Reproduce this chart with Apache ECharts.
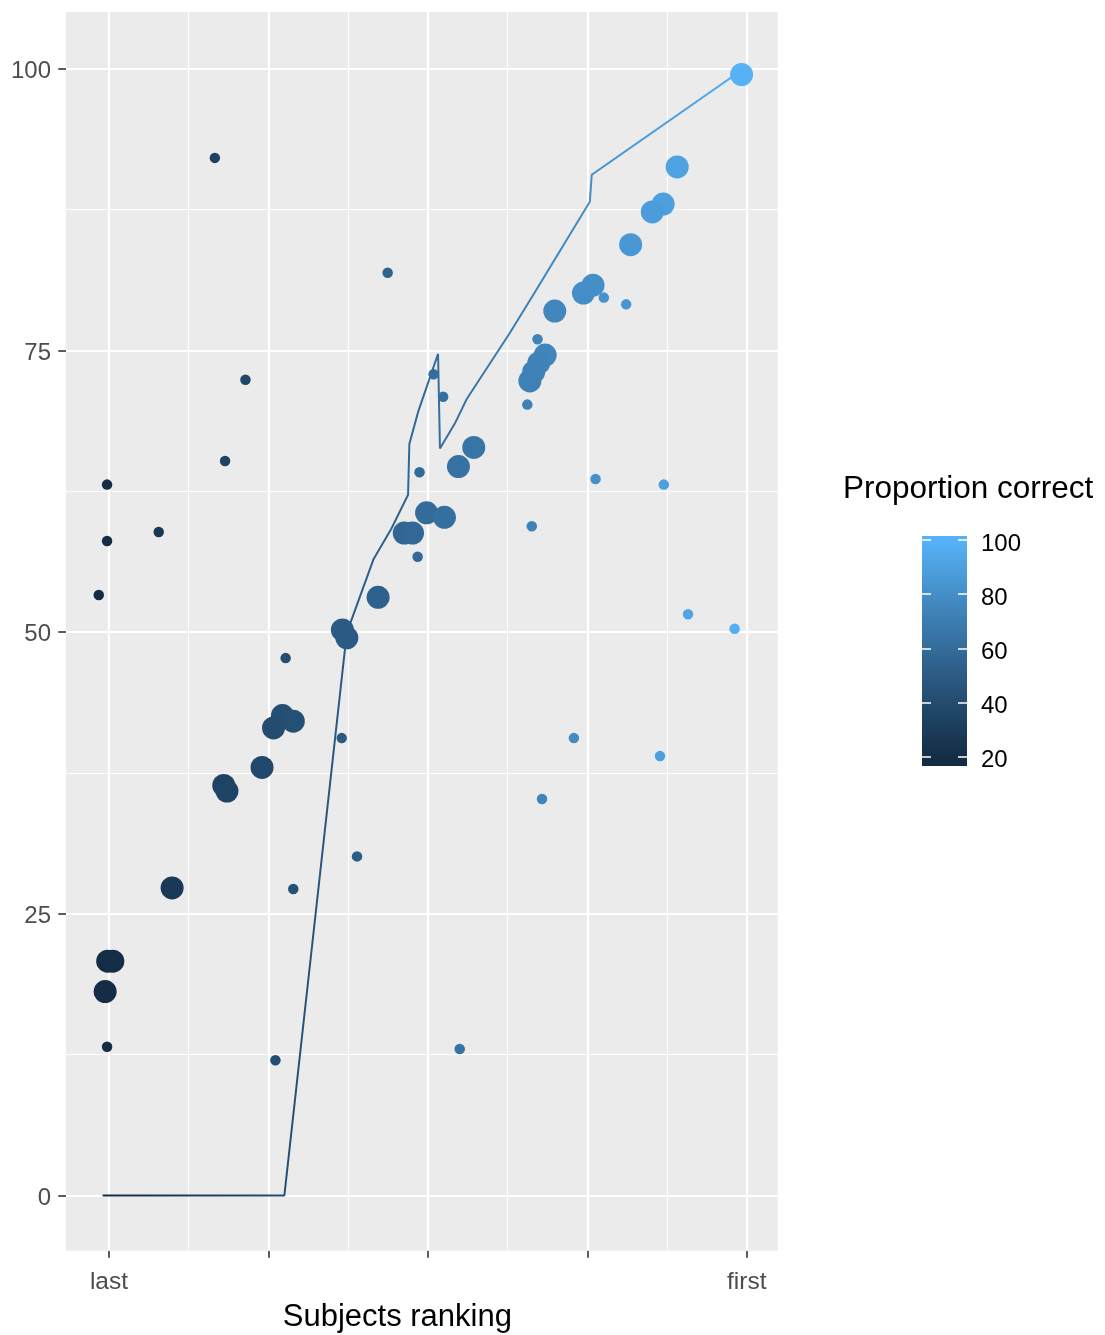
<!DOCTYPE html>
<html>
<head>
<meta charset="utf-8">
<title>Subjects ranking</title>
<script src="https://cdn.jsdelivr.net/npm/echarts@6/dist/echarts.min.js"></script>
<style>
  html, body { margin: 0; padding: 0; background: #ffffff; }
  #chart { width: 1105px; height: 1335px; }
</style>
</head>
<body>
<div id="chart"></div>
<script>
// Axis breaks: ranking position (0 = last, 100 = first) and score
const rankTicks = [0, 25, 50, 75, 100];
const rankLabels = ['last', '', '', '', 'first'];
const rankMinor = [12.5, 37.5, 62.5, 87.5];
const scoreTicks = [0, 25, 50, 75, 100];
const scoreMinor = [12.5, 37.5, 62.5, 87.5];
const legendTicks = [20, 40, 60, 80, 100];

// Group summaries (large points)
const groupRank = [99.2, 89.1, 86.9, 85.2, 81.8, 75.9, 74.4, 69.9, 68.4, 67.4, 66.6, 66.0,
  57.2, 54.8, 49.8, 52.6, 46.3, 47.6, 42.2, 36.6, 37.3, 27.2, 28.9, 25.8, 24.0, 18.0, 18.5,
  9.9, -0.2, 0.6, -0.6];
const groupScore = [99.5, 91.3, 88.0, 87.3, 84.4, 80.8, 80.1, 78.5, 74.6, 73.9, 73.1, 72.3,
  66.4, 64.7, 60.6, 60.2, 58.8, 58.8, 53.1, 50.2, 49.5, 42.6, 42.1, 41.5, 38.0, 36.4, 35.9,
  27.3, 20.8, 20.8, 18.1];
const groupCorrect = [99.4, 90.9, 89.2, 87.8, 85.1, 80.4, 79.2, 75.6, 74.4, 73.6, 73.0, 72.5,
  65.5, 63.6, 59.6, 61.9, 56.9, 57.9, 53.6, 49.1, 49.7, 41.7, 43.0, 40.6, 39.1, 34.3, 34.7,
  27.9, 19.9, 20.5, 19.6];

// Individual subjects (small points)
const subjectRank = [16.6, 43.7, 21.4, 18.2, -0.3, -0.3, 7.8, -1.6, 27.7, 36.5, 38.9, 28.9,
  -0.3, 26.1, 55.0, 50.9, 52.4, 48.7, 48.4, 67.2, 65.6, 66.3, 76.3, 87.0, 90.8, 98.1, 72.9,
  86.4, 67.9, 77.6, 81.1];
const subjectScore = [92.1, 81.9, 72.4, 65.2, 63.1, 58.1, 58.9, 53.3, 47.7, 40.6, 30.1, 27.2,
  13.2, 12.0, 13.0, 72.9, 70.9, 64.2, 56.7, 76.0, 70.2, 59.4, 63.6, 63.1, 51.6, 50.3, 40.6,
  39.0, 35.2, 79.7, 79.1];
const subjectCorrect = [33.2, 54.8, 37.1, 34.5, 19.8, 19.8, 26.2, 18.7, 42.1, 49.1, 51.0, 43.0,
  19.8, 40.8, 63.8, 60.5, 61.7, 58.8, 58.5, 73.5, 72.2, 72.8, 80.7, 89.2, 92.3, 98.1, 78.0,
  88.8, 74.0, 81.8, 84.5];

// Reference curve
const curveRank = [-1.0, 27.5, 37.3, 38.1, 41.5, 44.3, 46.9, 47.1, 48.5, 51.6, 51.9, 54.3,
  56.1, 62.9, 66.8, 75.4, 75.7, 99.5];
const curveScore = [0, 0, 50.0, 51.2, 56.5, 59.2, 62.2, 66.7, 69.6, 74.7, 66.3, 68.6,
  70.7, 76.6, 80.2, 88.2, 90.6, 100.0];

// Colour scale limits (proportion correct) and the rank span it follows along the curve
const correctMin = 18.7, correctMax = 99.4;
const curveRankMin = -1.67, curveRankMax = 99.78;
const barMin = 16.6, barMax = 101.5;

const FONT = '"Liberation Sans", Arial, Helvetica, sans-serif';
const palette = ['#132B43', '#22496C', '#336A98', '#448DC6', '#56B1F7'];

const groupData = groupRank.map((x, i) => [x, groupScore[i], groupCorrect[i]]);
const subjectData = subjectRank.map((x, i) => [x, subjectScore[i], subjectCorrect[i]]);
const curveData = curveRank.map((x, i) => [x, curveScore[i]]);

function gridLines() {
  const out = [];
  rankMinor.forEach(v => out.push({ xAxis: v, lineStyle: { width: 1.1 } }));
  scoreMinor.forEach(v => out.push({ yAxis: v, lineStyle: { width: 1.1 } }));
  rankTicks.forEach(v => out.push({ xAxis: v, lineStyle: { width: 2.2 } }));
  scoreTicks.forEach(v => out.push({ yAxis: v, lineStyle: { width: 2.2 } }));
  return out;
}

// Colour bar fill: flat ends outside the scale limits, palette stops inside
const barStops = [{ offset: 0, color: palette[0] }];
palette.forEach((c, i) => {
  const v = correctMin + (correctMax - correctMin) * i / (palette.length - 1);
  barStops.push({ offset: (v - barMin) / (barMax - barMin), color: c });
});
barStops.push({ offset: 1, color: palette[palette.length - 1] });
const barFill = new echarts.graphic.LinearGradient(0, 1, 0, 0, barStops);

const hiddenLine = { show: true, onZero: false, lineStyle: { color: 'rgba(0,0,0,0)', width: 0 } };

const chart = echarts.init(document.getElementById('chart'), null, { renderer: 'canvas' });

const option = {
  animation: false,
  backgroundColor: '#FFFFFF',
  textStyle: { fontFamily: FONT },
  title: {
    text: 'Proportion correct',
    left: 843,
    top: 473,
    padding: 0,
    textStyle: { fontFamily: FONT, fontSize: 31.5, fontWeight: 'normal', color: '#000000' }
  },
  grid: [
    { left: 66, top: 12, width: 711.7, height: 1238.7, show: true, outerBoundsMode: 'none',
      containLabel: false, backgroundColor: '#EBEBEB', borderWidth: 0 },
    { left: 922, top: 536, width: 45, height: 230, show: true, outerBoundsMode: 'none',
      containLabel: false, backgroundColor: barFill, borderWidth: 0 }
  ],
  xAxis: [
    {
      type: 'value', gridIndex: 0, min: -6.74, max: 104.86,
      splitLine: { show: false }, axisLine: hiddenLine,
      axisTick: { show: true, customValues: rankTicks, length: 7,
        lineStyle: { color: '#333333', width: 1.6 } },
      axisLabel: { customValues: rankTicks, margin: 19, fontSize: 24.5, color: '#4D4D4D',
        fontFamily: FONT,
        formatter: v => rankLabels[rankTicks.indexOf(v)] || '' },
      name: 'Subjects ranking', nameLocation: 'middle', nameGap: 51,
      nameTextStyle: { fontSize: 31, color: '#000000', fontFamily: FONT, padding: [0, 49, 0, 0] }
    },
    { type: 'value', gridIndex: 1, min: 0, max: 1, show: false }
  ],
  yAxis: [
    {
      type: 'value', gridIndex: 0, min: -4.9, max: 105.05,
      splitLine: { show: false }, axisLine: hiddenLine,
      axisTick: { show: true, customValues: scoreTicks, length: 7.7,
        lineStyle: { color: '#333333', width: 1.6 } },
      axisLabel: { customValues: scoreTicks, margin: 15, fontSize: 24, color: '#4D4D4D',
        fontFamily: FONT, verticalAlign: 'top', lineHeight: 5 }
    },
    {
      type: 'value', gridIndex: 1, position: 'left', min: barMin, max: barMax,
      splitLine: { show: false }, axisLine: hiddenLine,
      axisTick: { show: true, inside: true, customValues: legendTicks, length: 9,
        lineStyle: { color: '#FFFFFF', width: 1.5 } },
      axisLabel: { show: false }
    },
    {
      type: 'value', gridIndex: 1, position: 'right', min: barMin, max: barMax,
      splitLine: { show: false }, axisLine: hiddenLine,
      axisTick: { show: true, inside: true, customValues: legendTicks, length: 9,
        lineStyle: { color: '#FFFFFF', width: 1.5 } },
      axisLabel: { customValues: legendTicks, margin: 14, fontSize: 24, color: '#000000',
        fontFamily: FONT, verticalAlign: 'top', lineHeight: 8 }
    }
  ],
  visualMap: [
    { type: 'continuous', show: false, seriesIndex: [1, 2], dimension: 2,
      min: correctMin, max: correctMax, inRange: { color: palette } },
    { type: 'continuous', show: false, seriesIndex: 3, dimension: 0,
      min: curveRankMin, max: curveRankMax, inRange: { color: palette } }
  ],
  series: [
    {
      name: 'panel grid', type: 'line', xAxisIndex: 0, yAxisIndex: 0, data: [],
      silent: true, z: 1,
      markLine: {
        z: 1, silent: true, animation: false, symbol: ['none', 'none'],
        label: { show: false },
        lineStyle: { color: '#FFFFFF', type: 'solid' },
        emphasis: { disabled: true },
        data: gridLines()
      }
    },
    {
      name: 'subjects', type: 'scatter', xAxisIndex: 0, yAxisIndex: 0,
      data: subjectData, symbol: 'circle', symbolSize: 10.5, z: 3,
      itemStyle: { opacity: 1 }
    },
    {
      name: 'groups', type: 'scatter', xAxisIndex: 0, yAxisIndex: 0,
      data: groupData, symbol: 'circle', symbolSize: 23, z: 3,
      itemStyle: { opacity: 1 }
    },
    {
      name: 'curve', type: 'line', xAxisIndex: 0, yAxisIndex: 0,
      data: curveData, showSymbol: false, symbol: 'none',
      lineStyle: { width: 2 }, z: 8
    }
  ]
};

chart.setOption(option);
</script>
</body>
</html>
